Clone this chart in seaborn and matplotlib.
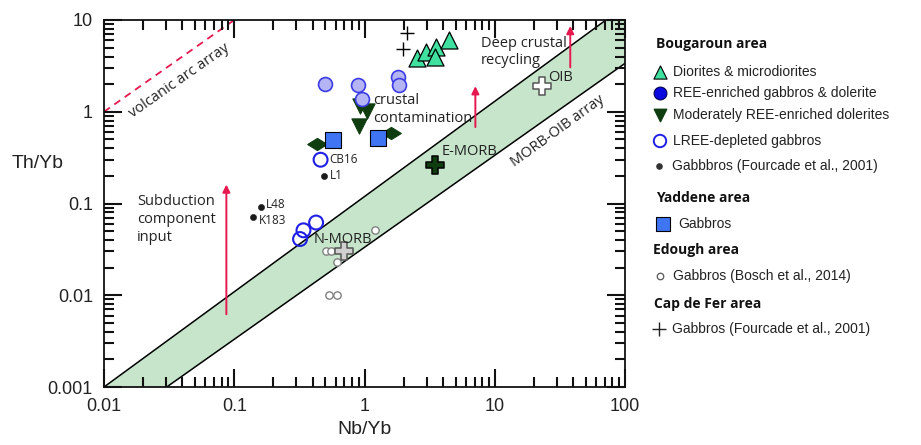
import matplotlib.pyplot as plt
import seaborn as sns
from matplotlib.ticker import LogLocator, FixedLocator, FixedFormatter, NullFormatter

# Bougaroun area
diorite_nb = [2.51, 2.96, 3.53, 3.47, 4.49]
diorite_th = [3.82, 4.52, 5.13, 3.99, 6.01]

ree_gabbro_nb = [0.50, 0.89, 1.80, 1.84, 0.96]
ree_gabbro_th = [2.02, 1.98, 2.39, 1.94, 1.36]

mod_dolerite_nb = [0.92, 1.05, 0.90]
mod_dolerite_th = [1.15, 1.03, 0.70]

diamond_nb = [0.43, 1.59]
diamond_th = [0.44, 0.58]

lree_gabbro_nb = [0.46, 0.425, 0.34, 0.32]
lree_gabbro_th = [0.30, 0.062, 0.051, 0.041]

fourcade_nb = [0.49, 0.16, 0.14]
fourcade_th = [0.20, 0.092, 0.072]
fourcade_labels = ["L1", "L48", "K183"]

# Yaddene area
yaddene_nb = [0.57, 1.27]
yaddene_th = [0.49, 0.52]

# Edough area
edough_nb = [1.20, 0.51, 0.555, 0.62, 0.53, 0.62]
edough_th = [0.051, 0.030, 0.030, 0.023, 0.010, 0.010]

# Cap de Fer area
capdefer_nb = [2.13, 1.99]
capdefer_th = [7.16, 4.83]

# reference compositions
ref_names = ["N-MORB", "E-MORB", "OIB"]
ref_nb = [0.69, 3.5, 23.0]
ref_th = [0.030, 0.26, 1.89]

# MORB-OIB array and volcanic arc array
array_upper_nb = [0.01, 71.4]
array_upper_th = [0.001, 10]
array_lower_nb = [0.0303, 100]
array_lower_th = [0.001, 3.37]
arc_nb = [0.01, 0.1]
arc_th = [1, 10]

# vectors
arrow_nb = [0.087, 7.1, 38]
arrow_th0 = [0.0062, 0.68, 3.05]
arrow_th1 = [0.161, 1.9, 8.6]

x_ticks = [0.01, 0.1, 1, 10, 100]
x_ticklabels = ["0.01", "0.1", "1", "10", "100"]
y_ticks = [0.001, 0.01, 0.1, 1, 10]
y_ticklabels = ["0.001", "0.01", "0.1", "1", "10"]

sns.set_style("ticks")
plt.rcParams['font.family'] = ['Liberation Sans', 'DejaVu Sans']
plt.rcParams['axes.axisbelow'] = False
ann_font = ['Open Sans', 'DejaVu Sans']
txt = "#222222"
red = "#e5194f"
dkgreen = "#0f3d10"

fig = plt.figure(figsize=(9.21, 4.45), dpi=100)

# legend drawn by hand on an overlay (kept underneath the plot axes)
lax = fig.add_axes([0, 0, 1, 1], zorder=1)
lax.set_xlim(0, 921)
lax.set_ylim(445, 0)
lax.axis("off")
lax.patch.set_visible(False)

ax = fig.add_axes([104 / 921, 1 - 387 / 445, 521 / 921, 367 / 445], zorder=5)
ax.set_axisbelow(False)
ax.set_xscale("log")
ax.set_yscale("log")
ax.set_xlim(0.01, 100)
ax.set_ylim(0.001, 10)

# MORB-OIB band
band_x = array_upper_nb + [100] + array_lower_nb[::-1]
band_y = array_upper_th + [10] + array_lower_th[::-1]
ax.fill(band_x, band_y, color="#c6e5cb", zorder=1, lw=0)
ax.plot(array_upper_nb, array_upper_th, color="black", lw=1.1, zorder=2)
ax.plot(array_lower_nb, array_lower_th, color="black", lw=1.1, zorder=2)
ax.plot(arc_nb, arc_th, color=red, lw=1.3, ls=(0, (4, 3)), zorder=2)

for x, y0, y1 in zip(arrow_nb, arrow_th0, arrow_th1):
    ax.annotate("", xy=(x, y1), xytext=(x, y0),
                arrowprops=dict(arrowstyle="-|>", color=red, lw=1.4,
                                mutation_scale=11, shrinkA=0, shrinkB=0), zorder=3)

# data
sns.scatterplot(x=edough_nb, y=edough_th, marker="o", s=28, facecolor="white",
                edgecolor="#808080", linewidth=1.0, ax=ax, zorder=4)
sns.scatterplot(x=capdefer_nb, y=capdefer_th, marker="+", s=110, color="black",
                linewidth=1.0, ax=ax, zorder=4)
sns.scatterplot(x=diorite_nb, y=diorite_th, marker="^", s=150, color="#3fe0a0",
                edgecolor="black", linewidth=0.9, ax=ax, zorder=5)
sns.scatterplot(x=mod_dolerite_nb, y=mod_dolerite_th, marker="v", s=120, color=dkgreen,
                edgecolor=dkgreen, linewidth=0.8, ax=ax, zorder=5)
flat_diamond = [(-1, 0), (0, 0.62), (1, 0), (0, -0.62), (-1, 0)]
sns.scatterplot(x=diamond_nb, y=diamond_th, marker=flat_diamond, s=200, color=dkgreen,
                edgecolor=dkgreen, linewidth=0.8, ax=ax, zorder=5)
sns.scatterplot(x=yaddene_nb, y=yaddene_th, marker="s", s=120, color="#3f74f2",
                edgecolor="black", linewidth=0.8, ax=ax, zorder=6)
sns.scatterplot(x=ree_gabbro_nb, y=ree_gabbro_th, marker="o", s=100, color="#b5b5f5",
                edgecolor="#3c3ce6", linewidth=1.2, ax=ax, zorder=6)
sns.scatterplot(x=lree_gabbro_nb, y=lree_gabbro_th, marker="o", s=100, facecolor="none",
                edgecolor="#1f1fe6", linewidth=1.5, ax=ax, zorder=6)
sns.scatterplot(x=fourcade_nb, y=fourcade_th, marker="o", s=20, color="#1a1a1a",
                edgecolor="#1a1a1a", ax=ax, zorder=6)

ref_faces = ["#d0d0d0", dkgreen, "white"]
ref_edges = ["#555555", "black", "#555555"]
for x, y, fc, ec in zip(ref_nb, ref_th, ref_faces, ref_edges):
    sns.scatterplot(x=[x], y=[y], marker="P", s=150, color=fc, edgecolor=ec,
                    linewidth=1.1, ax=ax, zorder=7)

# point labels
sample_offsets = [(6, 0), (5, 2), (6, -4)]
for x, y, lab, off in zip(fourcade_nb, fourcade_th, fourcade_labels, sample_offsets):
    ax.annotate(lab, (x, y), xytext=off, textcoords="offset pixels", fontsize=8.5,
                family=ann_font, color=txt, ha="left", va="center", zorder=8)
ax.annotate("CB16", (lree_gabbro_nb[0], lree_gabbro_th[0]), xytext=(9, 0),
            textcoords="offset pixels", fontsize=8.5, family=ann_font, color=txt,
            ha="left", va="center", zorder=8)
ref_offsets = [(-30, 12), (6, 14), (6, 9)]
for x, y, lab, off in zip(ref_nb, ref_th, ref_names, ref_offsets):
    ax.annotate(lab, (x, y), xytext=off, textcoords="offset pixels", fontsize=10.5,
                family=ann_font, color=txt, ha="left", va="center", zorder=8)

ax.text(0.0179, 0.067, "Subduction\ncomponent\ninput", fontsize=10.5, family=ann_font,
        color=txt, ha="left", va="center", linespacing=1.25)
ax.text(1.17, 1.06, "crustal\ncontamination", fontsize=10.5, family=ann_font,
        color=txt, ha="left", va="center", linespacing=1.25, zorder=8)
ax.text(7.8, 4.48, "Deep crustal\nrecycling", fontsize=10.5, family=ann_font,
        color=txt, ha="left", va="center", linespacing=1.25)
ax.text(30.5, 0.61, "MORB-OIB array", fontsize=10.5, family=ann_font, color=txt,
        ha="center", va="center", rotation=36)
ax.text(0.0378, 2.15, "volcanic arc array", fontsize=10.5, family=ann_font, color=txt,
        ha="center", va="center", rotation=35)

# axes styling
ax.xaxis.set_major_locator(FixedLocator(x_ticks))
ax.xaxis.set_major_formatter(FixedFormatter(x_ticklabels))
ax.yaxis.set_major_locator(FixedLocator(y_ticks))
ax.yaxis.set_major_formatter(FixedFormatter(y_ticklabels))
for axis in (ax.xaxis, ax.yaxis):
    axis.set_minor_locator(LogLocator(base=10, subs=range(2, 10), numticks=50))
    axis.set_minor_formatter(NullFormatter())
ax.tick_params(which="both", direction="in", bottom=True, left=True, top=True, right=True,
               width=1.5, color="#111111", labelcolor=txt, labelsize=13, pad=8)
ax.tick_params(which="major", length=13)
ax.tick_params(which="minor", length=7)
for sp in ax.spines.values():
    sp.set_visible(True)
    sp.set_linewidth(1.3)
    sp.set_color("#111111")
ax.set_xlabel("Nb/Yb", fontsize=14, color=txt, va="center")
ax.xaxis.set_label_coords(0.5, -0.117)
ax.set_ylabel("Th/Yb", fontsize=14, color=txt, rotation=0, ha="center", va="center")
ax.yaxis.set_label_coords(-0.127, 0.61)

headings = [("Bougaroun area", 656, 44), ("Yaddene area", 656, 198),
            ("Edough area", 653, 250), ("Cap de Fer area", 654, 304)]
for t, x, y in headings:
    lax.text(x, y, t, fontsize=10, fontweight="bold", family=ann_font, color="#111111",
             ha="left", va="center")

entries = [
    ("Diorites & microdiorites", 660, 72, dict(marker="^", s=90, c="#3fe0a0", edgecolors="black", linewidths=0.8)),
    ("REE-enriched gabbros & dolerite", 660, 93, dict(marker="o", s=85, c="#0a0ae0", edgecolors="#000050", linewidths=0.8)),
    ("Moderately REE-enriched dolerites", 660, 115, dict(marker="v", s=80, c=dkgreen, edgecolors=dkgreen)),
    ("LREE-depleted gabbros", 660, 141, dict(marker="o", s=80, facecolors="none", edgecolors="#1f1fe6", linewidths=1.4)),
    ("Gabbbros (Fourcade et al., 2001)", 659, 166, dict(marker="o", s=14, c="#333333")),
    ("Gabbros", 663, 224, dict(marker="s", s=90, c="#3f74f2", edgecolors="black", linewidths=0.8)),
    ("Gabbros (Bosch et al., 2014)", 660, 276, dict(marker="o", s=22, facecolors="white", edgecolors="#555555", linewidths=0.9)),
    ("Gabbros (Fourcade et al., 2001)", 659, 329, dict(marker="+", s=110, c="#222222", linewidths=1.0)),
]
for label, x, y, style in entries:
    lax.scatter([x], [y], **style)
    lax.text(x + 13 if label != "Gabbros" else x + 15, y, label, fontsize=10, color=txt,
             ha="left", va="center")

fig.savefig("out.png", dpi=100)
